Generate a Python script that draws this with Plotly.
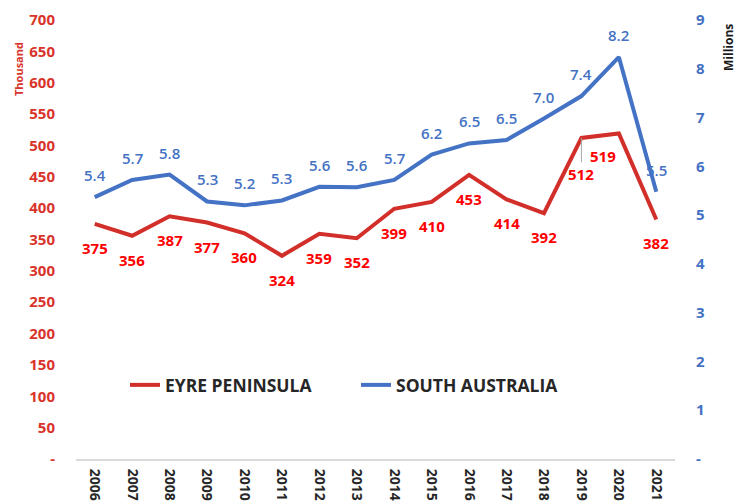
import plotly.graph_objects as go

years = [str(y) for y in range(2006, 2022)]
eyre = [375, 356, 387, 377, 360, 324, 359, 352, 399, 410, 453, 414, 392, 512, 519, 382]
sa = [5.37, 5.72, 5.83, 5.28, 5.2, 5.3, 5.58, 5.57, 5.72, 6.24, 6.47, 6.54, 6.98, 7.44, 8.24, 5.48]
sa_labels = ["5.4", "5.7", "5.8", "5.3", "5.2", "5.3", "5.6", "5.6", "5.7", "6.2", "6.5", "6.5", "7.0", "7.4", "8.2", "5.5"]
left_ticks = [0, 50, 100, 150, 200, 250, 300, 350, 400, 450, 500, 550, 600, 650, 700]
left_text = ["-"] + [str(v) for v in left_ticks[1:]]
right_ticks = list(range(0, 10))
right_text = ["-"] + [str(v) for v in right_ticks[1:]]

RED_LINE = "#D32F2A"
RED_AX = "#D9342B"
RED_LBL = "#FF0000"
BLUE = "#4472C4"
FONT = "Open Sans"

# page body has an 8px margin, so target pixel positions are shifted by -8
OFF = 8
W, H = 745, 504
L, R, T, B = 76 - OFF, W - (675 - OFF), 20 - OFF, H - (459 - OFF)
pw, ph = W - L - R, H - T - B

def px_x(x):
    return (x - OFF - L) / pw

def px_y(y):
    return (H - B - (y - OFF)) / ph

fig = go.Figure()
fig.add_trace(go.Scatter(x=years, y=eyre, mode="lines", name="EYRE PENINSULA",
                         line=dict(color=RED_LINE, width=4), yaxis="y"))
fig.add_trace(go.Scatter(x=years, y=sa, mode="lines", name="SOUTH AUSTRALIA",
                         line=dict(color=BLUE, width=4), yaxis="y2"))

red_font = dict(color=RED_LBL, size=15, family=FONT, weight="bold")
blue_font = dict(color=BLUE, size=15, family=FONT, weight=600)
anns = []
for i, (yr, v) in enumerate(zip(years, eyre)):
    base = dict(x=i, y=v, xref="x", yref="y", text=str(v), font=red_font,
                xanchor="center", yanchor="middle")
    if yr == "2019":
        base.update(showarrow=True, arrowhead=0, arrowwidth=1, arrowcolor="#A6A6A6",
                    ax=0, ay=36, standoff=0)
    elif yr == "2020":
        base.update(showarrow=False, yshift=-22, xshift=-16)
    else:
        base.update(showarrow=False, yshift=-24)
    anns.append(base)
for i, (v, t) in enumerate(zip(sa, sa_labels)):
    anns.append(dict(x=i, y=v, xref="x", yref="y2", text=t, showarrow=False,
                     xanchor="center", yanchor="middle", yshift=22, font=blue_font))

anns.append(dict(x=px_x(18), y=px_y(69), xref="paper", yref="paper", text="Thousand",
                 showarrow=False, textangle=-90, xanchor="center", yanchor="middle",
                 font=dict(color=RED_AX, size=11, family=FONT, weight="bold")))
anns.append(dict(x=px_x(728), y=px_y(48), xref="paper", yref="paper", text="Millions",
                 showarrow=False, textangle=-90, xanchor="center", yanchor="middle",
                 font=dict(color="#1a1a1a", size=12, family=FONT, weight="bold")))

fig.update_layout(
    width=W, height=H,
    margin=dict(l=L, r=R, t=T, b=B),
    paper_bgcolor="white", plot_bgcolor="white",
    font=dict(family=FONT),
    annotations=anns,
    showlegend=True,
    legend=dict(orientation="h", x=px_x(356), xanchor="center", y=px_y(385), yanchor="middle",
                font=dict(size=17.5, color="#262626", family=FONT, weight="bold"),
                entrywidth=186, entrywidthmode="pixels",
                bgcolor="rgba(0,0,0,0)"),
    xaxis=dict(type="category", showgrid=False, showline=True, linecolor="#D9D9D9", linewidth=2,
               tickangle=90, ticks="", ticklabelstandoff=5,
               tickfont=dict(size=14, color="#262626", family=FONT, weight="bold"),
               automargin=False, range=[-0.5, 15.5]),
    yaxis=dict(range=[0, 700], tickvals=left_ticks, ticktext=left_text, showgrid=False,
               zeroline=False, showline=False, ticks="", automargin=False,
               tickfont=dict(size=15, color=RED_AX, family=FONT, weight="bold"),
               ticklabelstandoff=20),
    yaxis2=dict(range=[0, 9], tickvals=right_ticks, ticktext=right_text, overlaying="y",
                side="right", showgrid=False, zeroline=False, showline=False, ticks="",
                automargin=False,
                tickfont=dict(size=15, color=BLUE, family=FONT, weight="bold"),
                ticklabelstandoff=20),
)
fig.write_html("out.html")
